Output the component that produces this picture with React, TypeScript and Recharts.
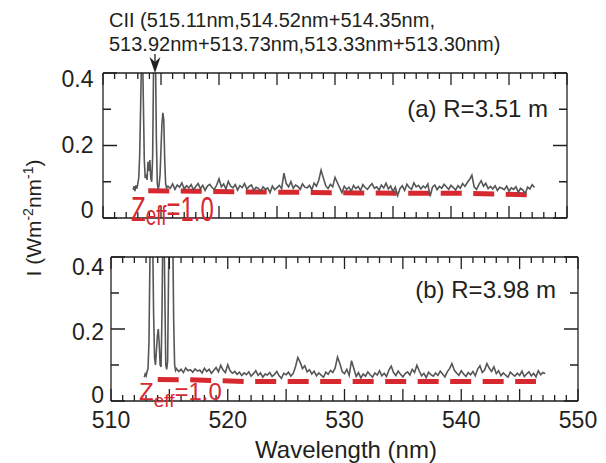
import React from 'react';
import { LineChart, Line, XAxis, YAxis } from 'recharts';

const FONT = '"Liberation Sans", Arial, Helvetica, sans-serif';
const INK = '#231f20';
const GRAY = '#555657';
const RED = '#d7282f';

// axes
const X_DOMAIN = [510, 550];
const X_TICKS = Array.from({ length: 41 }, (_, i) => 510 + i);
const X_LABELS = [510, 520, 530, 540, 550];
const Y_DOMAIN = [0, 0.4];
const Y_TICKS = [0, 0.1, 0.2, 0.3, 0.4];
const Y_LABELS = [0, 0.2, 0.4];

// baseline part of both spectra: sampled every 0.2 nm from 515.6 nm
const BASE_START = 515.6;
const BASE_STEP = 0.2;

// (a) R=3.51 m — CII line region
const A_PEAK_WL = [
  512.6, 512.68, 512.76, 512.84, 512.92, 513.0, 513.08, 513.16, 513.24, 513.32, 513.4, 513.48,
  513.56, 513.64, 513.72, 513.8, 513.88, 513.96, 514.04, 514.12, 514.2, 514.28, 514.36, 514.44,
  514.52, 514.6, 514.68, 514.76, 514.84, 514.92, 515.0, 515.08, 515.16, 515.24, 515.32, 515.4, 515.48,
];
const A_PEAK_I = [
  0.078, 0.088, 0.074, 0.09, 0.081, 0.095, 0.11, 0.17, 0.3, 0.44, 0.48, 0.32,
  0.16, 0.11, 0.12, 0.105, 0.155, 0.13, 0.16, 0.11, 0.1, 0.17, 0.42, 0.5,
  0.46, 0.22, 0.095, 0.08, 0.092, 0.12, 0.19, 0.26, 0.29, 0.27, 0.16, 0.095, 0.083,
];
const A_BASE_I = [
  0.088, 0.082, 0.094, 0.079, 0.091, 0.085, 0.097, 0.08, 0.089, 0.083,
  0.092, 0.078, 0.087, 0.095, 0.081, 0.09, 0.076, 0.088, 0.093, 0.084,
  0.079, 0.091, 0.108, 0.086, 0.094, 0.08, 0.101, 0.088, 0.083, 0.092,
  0.077, 0.089, 0.084, 0.095, 0.08, 0.087, 0.091, 0.076, 0.085, 0.082,
  0.074, 0.086, 0.079, 0.083, 0.07, 0.088, 0.078, 0.084, 0.09, 0.081,
  0.124, 0.095, 0.086, 0.1, 0.082, 0.091, 0.087, 0.079, 0.094, 0.085,
  0.083, 0.09, 0.078, 0.096, 0.088, 0.104, 0.132, 0.11, 0.089, 0.081,
  0.093, 0.086, 0.112, 0.098, 0.084, 0.07, 0.088, 0.079, 0.085, 0.074,
  0.09, 0.081, 0.087, 0.076, 0.092, 0.084, 0.079, 0.088, 0.095, 0.082,
  0.086, 0.077, 0.091, 0.083, 0.096, 0.08, 0.088, 0.073, 0.085, 0.062,
  0.081, 0.089, 0.076, 0.093, 0.084, 0.079, 0.097, 0.086, 0.09, 0.08,
  0.088, 0.083, 0.094, 0.06, 0.085, 0.091, 0.078, 0.087, 0.082, 0.093,
  0.086, 0.079, 0.09, 0.084, 0.077, 0.089, 0.082, 0.095, 0.087, 0.098,
  0.106, 0.118, 0.085, 0.079, 0.092, 0.103, 0.088, 0.096, 0.081, 0.087,
  0.08, 0.089, 0.076, 0.085, 0.082, 0.078, 0.088, 0.074, 0.083, 0.079,
  0.086, 0.071, 0.082, 0.077, 0.067, 0.085, 0.08, 0.092, 0.084,
];
const A_ZEFF_WL = [513.9, 518, 522, 527, 532, 536, 541, 544, 546.6];
const A_ZEFF_I = [0.075, 0.074, 0.072, 0.071, 0.069, 0.068, 0.068, 0.066, 0.064];

// (b) R=3.98 m
const B_PEAK_WL = [
  512.85, 512.93, 513.01, 513.09, 513.17, 513.25, 513.33, 513.41, 513.49, 513.57, 513.65, 513.73,
  513.81, 513.89, 513.97, 514.05, 514.13, 514.21, 514.29, 514.37, 514.45, 514.53, 514.61, 514.69,
  514.77, 514.85, 514.93, 515.01, 515.07, 515.13, 515.19, 515.25, 515.31, 515.37, 515.45, 515.53,
];
const B_PEAK_I = [
  0.066, 0.075, 0.07, 0.082, 0.09, 0.16, 0.38, 0.55, 0.52, 0.45, 0.24, 0.12,
  0.1, 0.14, 0.18, 0.2, 0.16, 0.1, 0.095, 0.25, 0.5, 0.52, 0.3, 0.1,
  0.088, 0.11, 0.35, 0.52, 0.42, 0.55, 0.44, 0.55, 0.4, 0.22, 0.1, 0.085,
];
const B_BASE_I = [
  0.09, 0.082, 0.088, 0.079, 0.092, 0.084, 0.087, 0.08, 0.089, 0.083,
  0.086, 0.078, 0.091, 0.082, 0.088, 0.077, 0.085, 0.093, 0.081, 0.099,
  0.086, 0.079, 0.101, 0.084, 0.077, 0.082, 0.074, 0.08, 0.071, 0.078,
  0.073, 0.081, 0.069, 0.076, 0.084, 0.071, 0.078, 0.066, 0.075, 0.072,
  0.079, 0.068, 0.074, 0.082, 0.07, 0.063, 0.077, 0.073, 0.08, 0.069,
  0.076, 0.095, 0.121, 0.108, 0.09, 0.098, 0.081, 0.087, 0.075, 0.083,
  0.07, 0.078, 0.072, 0.066, 0.08, 0.074, 0.085, 0.079, 0.092, 0.122,
  0.104, 0.082, 0.076, 0.088, 0.071, 0.112, 0.09, 0.068, 0.079, 0.064,
  0.075, 0.069, 0.081, 0.073, 0.066, 0.078, 0.072, 0.084, 0.07, 0.077,
  0.068, 0.086, 0.097, 0.079, 0.071, 0.083, 0.074, 0.067, 0.076, 0.081,
  0.072, 0.088, 0.079, 0.099, 0.084, 0.07, 0.077, 0.065, 0.08, 0.073,
  0.069, 0.078, 0.071, 0.083, 0.075, 0.067, 0.081, 0.09, 0.104, 0.086,
  0.078, 0.071, 0.084, 0.075, 0.068, 0.079, 0.073, 0.082, 0.07, 0.088,
  0.098, 0.079, 0.086, 0.104, 0.091, 0.082, 0.095, 0.076, 0.084, 0.07,
  0.078, 0.072, 0.066, 0.08, 0.074, 0.069, 0.077, 0.071, 0.083, 0.068,
  0.075, 0.081, 0.07, 0.077, 0.067, 0.084, 0.073, 0.079, 0.076,
];
const B_ZEFF_WL = [514.0, 516.8, 519.5, 522, 530, 540, 546.4];
const B_ZEFF_I = [0.06, 0.059, 0.056, 0.054, 0.054, 0.054, 0.054];

const toRows = (wl: number[], vals: number[]) => wl.map((w, k) => ({ wl: w, i: vals[k] }));
const spectrum = (peakWl: number[], peakI: number[], baseI: number[]) => [
  ...toRows(peakWl, peakI),
  ...baseI.map((v, k) => ({ wl: +(BASE_START + k * BASE_STEP).toFixed(2), i: v })),
];

const A_SPEC = spectrum(A_PEAK_WL, A_PEAK_I, A_BASE_I);
const B_SPEC = spectrum(B_PEAK_WL, B_PEAK_I, B_BASE_I);
const A_ZEFF = toRows(A_ZEFF_WL, A_ZEFF_I);
const B_ZEFF = toRows(B_ZEFF_WL, B_ZEFF_I);

// plot boxes (page px) — the charts' margins below produce exactly these
const BOX_A = { left: 103, right: 567, top: 73, bottom: 218 };
const BOX_B = { left: 111, right: 578, top: 257, bottom: 401 };

const TICK_FONT = 23;

function XLabel(props: any) {
  const { x, y, payload, show } = props;
  const v = Number(payload.value);
  if (!show || !X_LABELS.includes(v)) return <g />;
  return (
    <text x={x} y={Number(y) + 27} textAnchor="middle" fontSize={TICK_FONT} fontFamily={FONT} fill={INK}>
      {v}
    </text>
  );
}

function YLabel(props: any) {
  const { x, y, payload, labelOffsets, labelGap } = props;
  const idx = Y_LABELS.findIndex((l) => Math.abs(l - Number(payload.value)) < 1e-9);
  if (idx < 0) return <g />;
  return (
    <text x={Number(x) - labelGap} y={Number(y) + labelOffsets[idx]} textAnchor="end" fontSize={TICK_FONT} fontFamily={FONT} fill={INK}>
      {String(Y_LABELS[idx])}
    </text>
  );
}

// all inward tick marks of one frame as a single path
function FrameTicks({ box }: { box: typeof BOX_A }) {
  const sx = (v: number) => box.left + ((v - X_DOMAIN[0]) / (X_DOMAIN[1] - X_DOMAIN[0])) * (box.right - box.left);
  const sy = (v: number) => box.bottom - ((v - Y_DOMAIN[0]) / (Y_DOMAIN[1] - Y_DOMAIN[0])) * (box.bottom - box.top);
  let d = '';
  X_TICKS.forEach((v) => {
    const len = v % 5 === 0 ? 12 : 6;
    const x = sx(v).toFixed(2);
    d += `M${x} ${box.bottom}V${box.bottom - len}M${x} ${box.top}V${box.top + len}`;
  });
  Y_TICKS.forEach((v) => {
    const len = Math.round(v * 10) % 2 === 0 ? 14 : 8;
    const y = sy(v).toFixed(2);
    d += `M${box.left} ${y}H${box.left + len}M${box.right} ${y}H${box.right - len}`;
  });
  return <path d={d} fill="none" stroke={INK} strokeWidth={1.3} />;
}

// each axis takes 1px of the margin, so margins are the plot edges minus 1
function Panel({ top, height, margin, spec, zeff, showX, labelOffsets, labelGap }: any) {
  const axisLine = { stroke: INK, strokeWidth: 1.3 };
  return (
    <div style={{ position: 'absolute', left: 0, top }}>
      <LineChart width={606} height={height} margin={margin}>
        <XAxis
          xAxisId="b" type="number" dataKey="wl" domain={X_DOMAIN} ticks={X_LABELS} interval={0}
          allowDataOverflow height={1} tickSize={0} tickMargin={0} tickLine={false} axisLine={axisLine}
          tick={(p: any) => <XLabel {...p} show={showX} />}
        />
        <XAxis
          xAxisId="t" orientation="top" type="number" dataKey="wl" domain={X_DOMAIN} ticks={X_LABELS} interval={0}
          allowDataOverflow height={1} tickSize={0} tickMargin={0} tickLine={false} axisLine={axisLine} tick={false}
        />
        <YAxis
          yAxisId="l" type="number" domain={Y_DOMAIN} ticks={Y_TICKS} interval={0} allowDataOverflow
          width={1} tickSize={0} tickMargin={0} tickLine={false} axisLine={axisLine}
          tick={(p: any) => <YLabel {...p} labelOffsets={labelOffsets} labelGap={labelGap} />}
        />
        <YAxis
          yAxisId="r" orientation="right" type="number" domain={Y_DOMAIN} ticks={Y_TICKS} interval={0} allowDataOverflow
          width={1} tickSize={0} tickMargin={0} tickLine={false} axisLine={axisLine} tick={false}
        />
        <Line
          xAxisId="t" yAxisId="r" data={zeff} dataKey="i" type="linear" stroke={RED} strokeWidth={5}
          strokeDasharray="21 11.5" dot={false} activeDot={false} isAnimationActive={false}
        />
        <Line
          xAxisId="b" yAxisId="l" data={spec} dataKey="i" type="linear" stroke={GRAY} strokeWidth={1.6}
          dot={false} activeDot={false} isAnimationActive={false}
        />
      </LineChart>
    </div>
  );
}

function Zeff({ x, y, sy }: { x: number; y: number; sy: number }) {
  return (
    <g transform={`translate(${x} ${y}) scale(1 ${sy})`}>
      <text x={0} y={0} fontFamily={FONT} fontSize={24} fill={RED}>
        Z<tspan fontSize={19} dy={sy > 1 ? 3 : 7}>eff</tspan>
        <tspan fontSize={24} dy={sy > 1 ? -3 : -7}>=1.0</tspan>
      </text>
    </g>
  );
}

export default function App() {
  return (
    <div style={{ position: 'absolute', left: 0, top: 0, width: 606, height: 463, background: '#fff', fontFamily: FONT }}>
      <Panel
        top={0} height={240} margin={{ top: 72, right: 38, bottom: 21, left: 102 }}
        spec={A_SPEC} zeff={A_ZEFF} showX={false} labelOffsets={[0, 7.5, 14]} labelGap={9.5}
      />
      <Panel
        top={240} height={223} margin={{ top: 16, right: 27, bottom: 61, left: 110 }}
        spec={B_SPEC} zeff={B_ZEFF} showX labelOffsets={[2, 11, 18]} labelGap={7}
      />
      <svg width={606} height={463} style={{ position: 'absolute', left: 0, top: 0, pointerEvents: 'none' }}>
        <FrameTicks box={BOX_A} />
        <FrameTicks box={BOX_B} />
        <g fontFamily={FONT} fill={INK}>
          <text x={109} y={27} fontSize={20}>CII (515.11nm,514.52nm+514.35nm,</text>
          <text x={109} y={51} fontSize={20}>513.92nm+513.73nm,513.33nm+513.30nm)</text>
          <path d="M155 54V66" stroke={INK} strokeWidth={1.3} />
          <polygon points="149.5,57 155,73 160.5,57 155,62" fill={INK} />
          <text x={548} y={117} fontSize={24} textAnchor="end">(a) R=3.51 m</text>
          <text x={556} y={298} fontSize={24} textAnchor="end">(b) R=3.98 m</text>
          <text x={346} y={458} fontSize={24} textAnchor="middle">Wavelength (nm)</text>
          <text x={41} y={218} fontSize={21} textAnchor="middle" transform="rotate(-90 41 218)">
            I (Wm<tspan fontSize={14} dy={-8}>-2</tspan>
            <tspan fontSize={21} dy={8}>nm</tspan>
            <tspan fontSize={14} dy={-8}>-1</tspan>
            <tspan fontSize={21} dy={8}>)</tspan>
          </text>
        </g>
        <Zeff x={131} y={220.5} sy={1.45} />
        <Zeff x={139} y={400} sy={1} />
      </svg>
    </div>
  );
}
